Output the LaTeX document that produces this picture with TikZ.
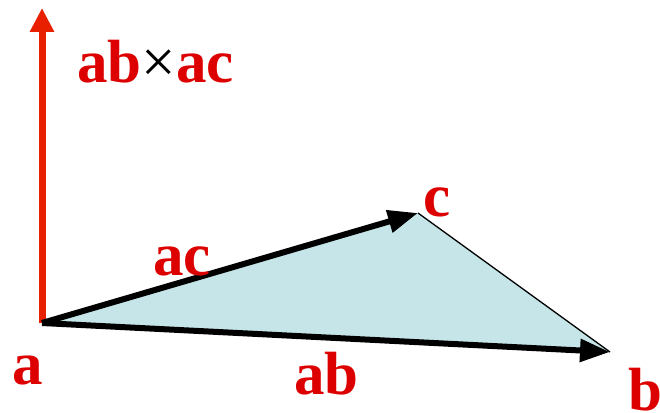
\documentclass[tikz,border=0pt]{standalone}
\usepackage{fontspec}
\setmainfont{Liberation Serif}
\usetikzlibrary{arrows.meta}
\definecolor{lblred}{RGB}{221,0,0}
\definecolor{axred}{RGB}{232,32,0}
\definecolor{trifill}{RGB}{197,229,232}
\tikzset{
  lbl/.style={text=lblred, font=\fontsize{61}{61}\selectfont\bfseries, inner sep=0pt, anchor=base west},
  vecarrow/.style={line width=6pt, -{Triangle[length=30pt,width=22pt]}},
  axarrow/.style={axred, line width=7pt, -{Triangle[length=24pt,width=23pt]}}
}
\begin{document}
\begin{tikzpicture}[x=1pt,y=-1pt]
\useasboundingbox (0,0) rectangle (660,412);
\coordinate (a) at (42,323);
\coordinate (b) at (610,352);
\coordinate (c) at (418,213);
\coordinate (top) at (42,8);
\fill[trifill] (a) -- (b) -- (c) -- cycle;
\draw[line width=1.3pt] (c) -- (b);
\draw[axarrow] (a) -- (top);
\draw[vecarrow] (a) -- (b);
\draw[vecarrow] (a) -- (c);
\node[lbl] (lcross) at (77,82) {ab\textcolor{black}{\mdseries ×}ac};
\node[lbl] (lac) at (153,275) {ac};
\node[lbl] (la) at (12,384) {a};
\node[lbl] (lab) at (294,394) {ab};
\node[lbl] (lc) at (423,216) {c};
\node[lbl] (lb) at (628,410) {b};
\end{tikzpicture}
\end{document}
